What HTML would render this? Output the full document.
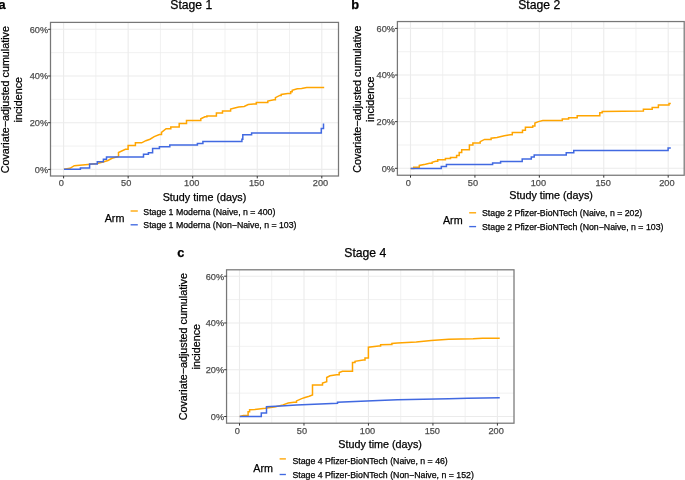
<!DOCTYPE html><html><head><meta charset="utf-8"><style>html,body{margin:0;padding:0;background:#fff;}svg{display:block;filter:blur(0.35px);}text{font-family:"Liberation Sans", sans-serif;stroke-width:0.25px;}</style></head><body>
<svg width="685" height="480" viewBox="0 0 685 480">
<rect width="685" height="480" fill="#fff"/>
<line x1="95.88" y1="22.40" x2="95.88" y2="176.00" stroke="#EBEBEB" stroke-width="0.7"/>
<line x1="160.43" y1="22.40" x2="160.43" y2="176.00" stroke="#EBEBEB" stroke-width="0.7"/>
<line x1="224.97" y1="22.40" x2="224.97" y2="176.00" stroke="#EBEBEB" stroke-width="0.7"/>
<line x1="289.53" y1="22.40" x2="289.53" y2="176.00" stroke="#EBEBEB" stroke-width="0.7"/>
<line x1="50.50" y1="146.05" x2="338.50" y2="146.05" stroke="#EBEBEB" stroke-width="0.7"/>
<line x1="50.50" y1="99.35" x2="338.50" y2="99.35" stroke="#EBEBEB" stroke-width="0.7"/>
<line x1="50.50" y1="52.65" x2="338.50" y2="52.65" stroke="#EBEBEB" stroke-width="0.7"/>
<line x1="63.60" y1="22.40" x2="63.60" y2="176.00" stroke="#EBEBEB" stroke-width="1.1"/>
<line x1="128.15" y1="22.40" x2="128.15" y2="176.00" stroke="#EBEBEB" stroke-width="1.1"/>
<line x1="192.70" y1="22.40" x2="192.70" y2="176.00" stroke="#EBEBEB" stroke-width="1.1"/>
<line x1="257.25" y1="22.40" x2="257.25" y2="176.00" stroke="#EBEBEB" stroke-width="1.1"/>
<line x1="321.80" y1="22.40" x2="321.80" y2="176.00" stroke="#EBEBEB" stroke-width="1.1"/>
<line x1="50.50" y1="169.40" x2="338.50" y2="169.40" stroke="#EBEBEB" stroke-width="1.1"/>
<line x1="50.50" y1="122.70" x2="338.50" y2="122.70" stroke="#EBEBEB" stroke-width="1.1"/>
<line x1="50.50" y1="76.00" x2="338.50" y2="76.00" stroke="#EBEBEB" stroke-width="1.1"/>
<line x1="50.50" y1="29.30" x2="338.50" y2="29.30" stroke="#EBEBEB" stroke-width="1.1"/>
<path d="M63.90,169.20 L70.00,168.30 L74.30,165.70 L88.00,164.40 L97.00,163.50 L103.00,162.00 L108.00,160.50 L112.00,158.30 L118.50,156.50 V152.50 L125.40,149.30 H128.10 V145.60 H132.80 H135.40 V142.80 H141.70 L145.80,140.70 L150.00,139.20 L154.20,136.60 L159.40,134.50 H161.50 V132.40 L166.10,128.75 H169.80 H170.80 V126.90 H177.10 H179.20 V123.50 H185.40 H186.50 V120.40 H198.10 H200.80 V118.80 L204.90,116.80 H206.90 V115.90 H214.40 H216.40 V113.00 H220.50 H222.50 V111.00 H227.90 H230.60 V109.10 L234.70,108.00 L238.70,107.10 L244.20,106.40 L248.20,104.60 L253.60,104.00 H256.30 V102.60 H266.70 H267.80 V101.00 L274.00,99.80 H275.40 V97.60 L279.80,95.40 H281.20 V94.40 L287.80,93.50 H290.70 V91.80 H292.20 V90.30 L297.30,88.80 L301.60,88.40 L306.70,87.40 H324.20" fill="none" stroke="#FFA500" stroke-width="1.5" stroke-linejoin="miter"/>
<path d="M63.90,169.20 H80.40 V167.90 H89.60 V164.10 H97.30 V161.80 H103.40 V159.30 H106.50 V157.00 H143.50 V154.30 H148.40 V152.70 H152.60 V148.50 H159.40 V146.70 H169.80 V144.90 H197.40 V143.50 H202.90 V141.60 H241.90 V139.20 H242.80 V134.80 H251.60 V133.10 H321.30 V128.60 H323.50 V123.40" fill="none" stroke="#4169E1" stroke-width="1.5" stroke-linejoin="miter"/>
<rect x="50.50" y="22.40" width="288.00" height="153.60" fill="none" stroke="#777777" stroke-width="1.25"/>
<line x1="63.60" y1="176.00" x2="63.60" y2="178.40" stroke="#333333" stroke-width="1"/>
<text x="61.30" y="186.30" font-size="9.2" fill="#4D4D4D" stroke="#4D4D4D" text-anchor="middle">0</text>
<line x1="128.15" y1="176.00" x2="128.15" y2="178.40" stroke="#333333" stroke-width="1"/>
<text x="126.15" y="186.30" font-size="9.2" fill="#4D4D4D" stroke="#4D4D4D" text-anchor="middle">50</text>
<line x1="192.70" y1="176.00" x2="192.70" y2="178.40" stroke="#333333" stroke-width="1"/>
<text x="191.70" y="186.30" font-size="9.2" fill="#4D4D4D" stroke="#4D4D4D" text-anchor="middle">100</text>
<line x1="257.25" y1="176.00" x2="257.25" y2="178.40" stroke="#333333" stroke-width="1"/>
<text x="256.65" y="186.30" font-size="9.2" fill="#4D4D4D" stroke="#4D4D4D" text-anchor="middle">150</text>
<line x1="321.80" y1="176.00" x2="321.80" y2="178.40" stroke="#333333" stroke-width="1"/>
<text x="320.50" y="186.30" font-size="9.2" fill="#4D4D4D" stroke="#4D4D4D" text-anchor="middle">200</text>
<line x1="48.10" y1="169.40" x2="50.50" y2="169.40" stroke="#333333" stroke-width="1"/>
<text x="48.10" y="172.70" font-size="9.2" fill="#4D4D4D" stroke="#4D4D4D" text-anchor="end">0%</text>
<line x1="48.10" y1="122.70" x2="50.50" y2="122.70" stroke="#333333" stroke-width="1"/>
<text x="48.10" y="126.00" font-size="9.2" fill="#4D4D4D" stroke="#4D4D4D" text-anchor="end">20%</text>
<line x1="48.10" y1="76.00" x2="50.50" y2="76.00" stroke="#333333" stroke-width="1"/>
<text x="48.10" y="79.30" font-size="9.2" fill="#4D4D4D" stroke="#4D4D4D" text-anchor="end">40%</text>
<line x1="48.10" y1="29.30" x2="50.50" y2="29.30" stroke="#333333" stroke-width="1"/>
<text x="48.10" y="32.60" font-size="9.2" fill="#4D4D4D" stroke="#4D4D4D" text-anchor="end">60%</text>
<text x="-1.5" y="9.3" font-size="12.8" font-weight="bold" fill="#000" stroke="#000">a</text>
<text x="191.3" y="8.9" font-size="12.2" fill="#000" stroke="#000" text-anchor="middle">Stage 1</text>
<text transform="translate(9.0,99.7) rotate(-90)" font-size="10.75" fill="#000" stroke="#000" text-anchor="middle">Covariate−adjusted cumulative</text>
<text transform="translate(22.0,99.7) rotate(-90)" font-size="10.75" fill="#000" stroke="#000" text-anchor="middle">incidence</text>
<text x="204.5" y="200.6" font-size="10.75" fill="#000" stroke="#000" text-anchor="middle">Study time (days)</text>
<text x="104.69999999999999" y="222.0" font-size="10.75" fill="#000" stroke="#000">Arm</text>
<line x1="130.6" y1="211.0" x2="137.8" y2="211.0" stroke="#FFA500" stroke-width="1.35"/>
<line x1="130.6" y1="224.8" x2="137.8" y2="224.8" stroke="#4169E1" stroke-width="1.35"/>
<text x="143.3" y="214.5" font-size="8.76" fill="#000" stroke="#000">Stage 1 Moderna (Naive, n = 400)</text>
<text x="143.3" y="227.8" font-size="8.76" fill="#000" stroke="#000">Stage 1 Moderna (Non−Naive, n = 103)</text>
<line x1="442.71" y1="21.55" x2="442.71" y2="175.25" stroke="#EBEBEB" stroke-width="0.7"/>
<line x1="507.14" y1="21.55" x2="507.14" y2="175.25" stroke="#EBEBEB" stroke-width="0.7"/>
<line x1="571.56" y1="21.55" x2="571.56" y2="175.25" stroke="#EBEBEB" stroke-width="0.7"/>
<line x1="635.99" y1="21.55" x2="635.99" y2="175.25" stroke="#EBEBEB" stroke-width="0.7"/>
<line x1="397.40" y1="144.98" x2="684.20" y2="144.98" stroke="#EBEBEB" stroke-width="0.7"/>
<line x1="397.40" y1="98.35" x2="684.20" y2="98.35" stroke="#EBEBEB" stroke-width="0.7"/>
<line x1="397.40" y1="51.72" x2="684.20" y2="51.72" stroke="#EBEBEB" stroke-width="0.7"/>
<line x1="410.50" y1="21.55" x2="410.50" y2="175.25" stroke="#EBEBEB" stroke-width="1.1"/>
<line x1="474.93" y1="21.55" x2="474.93" y2="175.25" stroke="#EBEBEB" stroke-width="1.1"/>
<line x1="539.35" y1="21.55" x2="539.35" y2="175.25" stroke="#EBEBEB" stroke-width="1.1"/>
<line x1="603.78" y1="21.55" x2="603.78" y2="175.25" stroke="#EBEBEB" stroke-width="1.1"/>
<line x1="668.20" y1="21.55" x2="668.20" y2="175.25" stroke="#EBEBEB" stroke-width="1.1"/>
<line x1="397.40" y1="168.30" x2="684.20" y2="168.30" stroke="#EBEBEB" stroke-width="1.1"/>
<line x1="397.40" y1="121.67" x2="684.20" y2="121.67" stroke="#EBEBEB" stroke-width="1.1"/>
<line x1="397.40" y1="75.03" x2="684.20" y2="75.03" stroke="#EBEBEB" stroke-width="1.1"/>
<line x1="397.40" y1="28.40" x2="684.20" y2="28.40" stroke="#EBEBEB" stroke-width="1.1"/>
<path d="M410.60,168.40 H413.70 V167.20 H419.30 V165.40 L425.40,164.30 L429.50,163.30 H432.10 V162.30 L435.70,161.30 H437.70 V159.70 H445.40 V158.50 H450.50 V157.50 H456.60 V155.50 H459.20 V152.60 H461.70 V149.80 H466.80 H469.40 V144.90 H472.90 V143.00 H478.80 H480.20 V141.60 L484.60,139.40 H491.10 V138.20 L497.00,137.60 L504.30,135.70 L510.10,134.70 H512.30 V132.40 H521.00 H522.50 V130.20 H525.40 V127.30 H531.30 H532.70 V126.00 H534.90 V123.00 L538.50,121.60 L542.80,120.50 H562.30 V118.90 H568.60 V117.70 H577.20 V115.80 H599.00 H599.80 V112.70 H602.20 V111.60 L643.40,111.00 V109.20 H652.20 V107.40 H658.40 V105.10 H669.00 V103.40 H670.80" fill="none" stroke="#FFA500" stroke-width="1.5" stroke-linejoin="miter"/>
<path d="M410.60,168.40 H441.30 V166.40 H446.40 V164.60 H492.60 V163.00 H500.60 V161.50 H522.20 V159.10 H531.30 V156.90 H534.20 V155.00 H566.25 V152.80 H573.75 V150.60 H668.10 V148.10 H670.80" fill="none" stroke="#4169E1" stroke-width="1.5" stroke-linejoin="miter"/>
<rect x="397.40" y="21.55" width="286.80" height="153.70" fill="none" stroke="#777777" stroke-width="1.25"/>
<line x1="410.50" y1="175.25" x2="410.50" y2="177.65" stroke="#333333" stroke-width="1"/>
<text x="408.20" y="185.55" font-size="9.2" fill="#4D4D4D" stroke="#4D4D4D" text-anchor="middle">0</text>
<line x1="474.93" y1="175.25" x2="474.93" y2="177.65" stroke="#333333" stroke-width="1"/>
<text x="472.93" y="185.55" font-size="9.2" fill="#4D4D4D" stroke="#4D4D4D" text-anchor="middle">50</text>
<line x1="539.35" y1="175.25" x2="539.35" y2="177.65" stroke="#333333" stroke-width="1"/>
<text x="538.35" y="185.55" font-size="9.2" fill="#4D4D4D" stroke="#4D4D4D" text-anchor="middle">100</text>
<line x1="603.78" y1="175.25" x2="603.78" y2="177.65" stroke="#333333" stroke-width="1"/>
<text x="603.18" y="185.55" font-size="9.2" fill="#4D4D4D" stroke="#4D4D4D" text-anchor="middle">150</text>
<line x1="668.20" y1="175.25" x2="668.20" y2="177.65" stroke="#333333" stroke-width="1"/>
<text x="666.90" y="185.55" font-size="9.2" fill="#4D4D4D" stroke="#4D4D4D" text-anchor="middle">200</text>
<line x1="395.00" y1="168.30" x2="397.40" y2="168.30" stroke="#333333" stroke-width="1"/>
<text x="395.00" y="171.60" font-size="9.2" fill="#4D4D4D" stroke="#4D4D4D" text-anchor="end">0%</text>
<line x1="395.00" y1="121.67" x2="397.40" y2="121.67" stroke="#333333" stroke-width="1"/>
<text x="395.00" y="124.97" font-size="9.2" fill="#4D4D4D" stroke="#4D4D4D" text-anchor="end">20%</text>
<line x1="395.00" y1="75.03" x2="397.40" y2="75.03" stroke="#333333" stroke-width="1"/>
<text x="395.00" y="78.33" font-size="9.2" fill="#4D4D4D" stroke="#4D4D4D" text-anchor="end">40%</text>
<line x1="395.00" y1="28.40" x2="397.40" y2="28.40" stroke="#333333" stroke-width="1"/>
<text x="395.00" y="31.70" font-size="9.2" fill="#4D4D4D" stroke="#4D4D4D" text-anchor="end">60%</text>
<text x="351.3" y="8.9" font-size="12.8" font-weight="bold" fill="#000" stroke="#000">b</text>
<text x="539.2" y="8.8" font-size="12.2" fill="#000" stroke="#000" text-anchor="middle">Stage 2</text>
<text transform="translate(361.3,99.2) rotate(-90)" font-size="10.75" fill="#000" stroke="#000" text-anchor="middle">Covariate−adjusted cumulative</text>
<text transform="translate(373.8,99.2) rotate(-90)" font-size="10.75" fill="#000" stroke="#000" text-anchor="middle">incidence</text>
<text x="551.1" y="199.3" font-size="10.75" fill="#000" stroke="#000" text-anchor="middle">Study time (days)</text>
<text x="442.90000000000003" y="223.7" font-size="10.75" fill="#000" stroke="#000">Arm</text>
<line x1="469.2" y1="212.8" x2="476.1" y2="212.8" stroke="#FFA500" stroke-width="1.35"/>
<line x1="469.2" y1="226.6" x2="476.1" y2="226.6" stroke="#4169E1" stroke-width="1.35"/>
<text x="482.0" y="216.3" font-size="8.76" fill="#000" stroke="#000">Stage 2 Pfizer-BioNTech (Naive, n = 202)</text>
<text x="482.0" y="229.8" font-size="8.76" fill="#000" stroke="#000">Stage 2 Pfizer-BioNTech (Non−Naive, n = 103)</text>
<line x1="271.74" y1="269.80" x2="271.74" y2="423.20" stroke="#EBEBEB" stroke-width="0.7"/>
<line x1="336.21" y1="269.80" x2="336.21" y2="423.20" stroke="#EBEBEB" stroke-width="0.7"/>
<line x1="400.69" y1="269.80" x2="400.69" y2="423.20" stroke="#EBEBEB" stroke-width="0.7"/>
<line x1="465.16" y1="269.80" x2="465.16" y2="423.20" stroke="#EBEBEB" stroke-width="0.7"/>
<line x1="226.55" y1="393.12" x2="514.00" y2="393.12" stroke="#EBEBEB" stroke-width="0.7"/>
<line x1="226.55" y1="346.35" x2="514.00" y2="346.35" stroke="#EBEBEB" stroke-width="0.7"/>
<line x1="226.55" y1="299.58" x2="514.00" y2="299.58" stroke="#EBEBEB" stroke-width="0.7"/>
<line x1="239.50" y1="269.80" x2="239.50" y2="423.20" stroke="#EBEBEB" stroke-width="1.1"/>
<line x1="303.98" y1="269.80" x2="303.98" y2="423.20" stroke="#EBEBEB" stroke-width="1.1"/>
<line x1="368.45" y1="269.80" x2="368.45" y2="423.20" stroke="#EBEBEB" stroke-width="1.1"/>
<line x1="432.93" y1="269.80" x2="432.93" y2="423.20" stroke="#EBEBEB" stroke-width="1.1"/>
<line x1="497.40" y1="269.80" x2="497.40" y2="423.20" stroke="#EBEBEB" stroke-width="1.1"/>
<line x1="226.55" y1="416.50" x2="514.00" y2="416.50" stroke="#EBEBEB" stroke-width="1.1"/>
<line x1="226.55" y1="369.73" x2="514.00" y2="369.73" stroke="#EBEBEB" stroke-width="1.1"/>
<line x1="226.55" y1="322.97" x2="514.00" y2="322.97" stroke="#EBEBEB" stroke-width="1.1"/>
<line x1="226.55" y1="276.20" x2="514.00" y2="276.20" stroke="#EBEBEB" stroke-width="1.1"/>
<path d="M239.70,416.40 L243.40,415.50 H248.10 V411.70 H249.60 V409.80 L254.80,409.50 L265.25,408.30 L275.70,406.70 L283.00,404.90 L288.20,403.10 L293.90,402.30 H296.50 V400.90 L301.70,398.60 L305.00,397.50 L309.20,396.30 L312.50,395.00 V385.00 H320.80 H322.50 V383.00 L326.70,381.70 V377.50 L330.00,375.80 L336.70,374.70 H339.20 V372.50 L342.50,371.30 H352.50 V362.50 H355.00 V361.30 L363.30,360.00 H365.00 V358.00 H368.40 V347.20 L378.75,345.90 H380.60 V344.75 L390.00,344.40 H391.90 V343.40 L397.50,342.90 L416.25,341.90 L431.25,340.60 L448.75,339.30 L473.10,338.75 L482.50,338.20 H499.75" fill="none" stroke="#FFA500" stroke-width="1.5" stroke-linejoin="miter"/>
<path d="M239.70,416.40 H261.30 V412.90 H266.50 V406.70 L280.90,405.90 L296.50,405.10 L337.50,403.30 V402.20 L378.75,400.50 L397.50,399.70 L448.75,398.75 L467.50,398.20 L499.75,397.80" fill="none" stroke="#4169E1" stroke-width="1.5" stroke-linejoin="miter"/>
<rect x="226.55" y="269.80" width="287.45" height="153.40" fill="none" stroke="#777777" stroke-width="1.25"/>
<line x1="239.50" y1="423.20" x2="239.50" y2="425.60" stroke="#333333" stroke-width="1"/>
<text x="237.20" y="433.50" font-size="9.2" fill="#4D4D4D" stroke="#4D4D4D" text-anchor="middle">0</text>
<line x1="303.98" y1="423.20" x2="303.98" y2="425.60" stroke="#333333" stroke-width="1"/>
<text x="301.98" y="433.50" font-size="9.2" fill="#4D4D4D" stroke="#4D4D4D" text-anchor="middle">50</text>
<line x1="368.45" y1="423.20" x2="368.45" y2="425.60" stroke="#333333" stroke-width="1"/>
<text x="367.45" y="433.50" font-size="9.2" fill="#4D4D4D" stroke="#4D4D4D" text-anchor="middle">100</text>
<line x1="432.93" y1="423.20" x2="432.93" y2="425.60" stroke="#333333" stroke-width="1"/>
<text x="432.32" y="433.50" font-size="9.2" fill="#4D4D4D" stroke="#4D4D4D" text-anchor="middle">150</text>
<line x1="497.40" y1="423.20" x2="497.40" y2="425.60" stroke="#333333" stroke-width="1"/>
<text x="496.10" y="433.50" font-size="9.2" fill="#4D4D4D" stroke="#4D4D4D" text-anchor="middle">200</text>
<line x1="224.15" y1="416.50" x2="226.55" y2="416.50" stroke="#333333" stroke-width="1"/>
<text x="224.15" y="419.80" font-size="9.2" fill="#4D4D4D" stroke="#4D4D4D" text-anchor="end">0%</text>
<line x1="224.15" y1="369.73" x2="226.55" y2="369.73" stroke="#333333" stroke-width="1"/>
<text x="224.15" y="373.03" font-size="9.2" fill="#4D4D4D" stroke="#4D4D4D" text-anchor="end">20%</text>
<line x1="224.15" y1="322.97" x2="226.55" y2="322.97" stroke="#333333" stroke-width="1"/>
<text x="224.15" y="326.27" font-size="9.2" fill="#4D4D4D" stroke="#4D4D4D" text-anchor="end">40%</text>
<line x1="224.15" y1="276.20" x2="226.55" y2="276.20" stroke="#333333" stroke-width="1"/>
<text x="224.15" y="279.50" font-size="9.2" fill="#4D4D4D" stroke="#4D4D4D" text-anchor="end">60%</text>
<text x="177.3" y="257.2" font-size="12.8" font-weight="bold" fill="#000" stroke="#000">c</text>
<text x="365.3" y="257.0" font-size="12.2" fill="#000" stroke="#000" text-anchor="middle">Stage 4</text>
<text transform="translate(187.3,346.7) rotate(-90)" font-size="10.75" fill="#000" stroke="#000" text-anchor="middle">Covariate−adjusted cumulative</text>
<text transform="translate(199.8,346.7) rotate(-90)" font-size="10.75" fill="#000" stroke="#000" text-anchor="middle">incidence</text>
<text x="380.1" y="447.7" font-size="10.75" fill="#000" stroke="#000" text-anchor="middle">Study time (days)</text>
<text x="253.29999999999998" y="471.6" font-size="10.75" fill="#000" stroke="#000">Arm</text>
<line x1="279.6" y1="458.9" x2="285.9" y2="458.9" stroke="#FFA500" stroke-width="1.35"/>
<line x1="279.6" y1="474.5" x2="285.9" y2="474.5" stroke="#4169E1" stroke-width="1.35"/>
<text x="292.4" y="464.2" font-size="8.76" fill="#000" stroke="#000">Stage 4 Pfizer-BioNTech (Naive, n = 46)</text>
<text x="292.4" y="477.8" font-size="8.76" fill="#000" stroke="#000">Stage 4 Pfizer-BioNTech (Non−Naive, n = 152)</text>
</svg></body></html>
